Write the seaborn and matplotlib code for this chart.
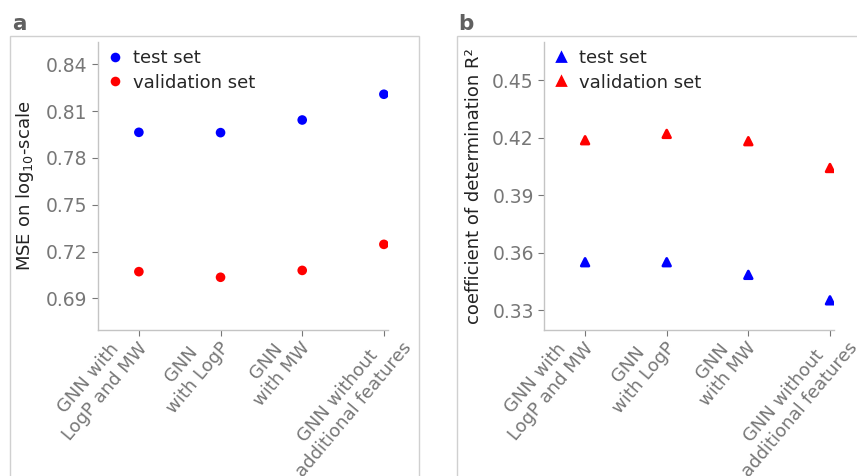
import matplotlib
matplotlib.use("Agg")
import matplotlib.pyplot as plt
from matplotlib.patches import Rectangle
from matplotlib.transforms import ScaledTranslation
import seaborn as sns
import pandas as pd

# values
models = ["GNN with\nLogP and MW", "GNN\nwith LogP", "GNN\nwith MW", "GNN without\nadditional features"]
mse_test = [0.7964, 0.7962, 0.8043, 0.8208]
mse_val = [0.7071, 0.7035, 0.7079, 0.7246]
r2_test = [0.3550, 0.3550, 0.3484, 0.3351]
r2_val = [0.4187, 0.4220, 0.4182, 0.4042]
set_names = ["test set", "validation set"]

mse_ticks = [0.69, 0.72, 0.75, 0.78, 0.81, 0.84]
r2_ticks = [0.33, 0.36, 0.39, 0.42, 0.45]


def long_df(test, val):
    return pd.DataFrame({
        "model": models * 2,
        "pos": list(range(len(models))) * 2,
        "value": test + val,
        "set": [set_names[0]] * len(test) + [set_names[1]] * len(val),
    })


sns.set_style("white")
plt.rcParams["font.family"] = ["DejaVu Sans"]
grey = "#777777"
spine = "#c4c4c4"

fig = plt.figure(figsize=(8.57, 4.76), dpi=100)
ax_a = fig.add_axes([0.1144, 0.3067, 0.3383, 0.6051])
ax_b = fig.add_axes([0.6351, 0.3067, 0.3381, 0.6051])

# panel frames
fig.patches.append(Rectangle((10 / 857, -0.05), 409 / 857, 1.05 - 36 / 476, transform=fig.transFigure,
                             fill=False, edgecolor="#d0d0d0", linewidth=1))
fig.patches.append(Rectangle((457 / 857, -0.05), 0.6, 1.05 - 36 / 476, transform=fig.transFigure,
                             fill=False, edgecolor="#d0d0d0", linewidth=1))

palette = {"test set": "#0000ff", "validation set": "#ff0000"}

panels = [
    (ax_a, long_df(mse_test, mse_val), "o", mse_ticks, (0.6697, 0.8543), "MSE on log$_{10}$-scale", "a", 12),
    (ax_b, long_df(r2_test, r2_val), "^", r2_ticks, (0.3196, 0.47), "coefficient of determination R²", "b", 458),
]

# horizontal nudge of each category label (px); the last one sits further right in the reference
label_shift = [-3, -3, -3, 17]

for ax, df, mk, yt, yl, ylab, letter, lx in panels:
    sns.scatterplot(data=df, x="pos", y="value", hue="set", palette=palette, marker=mk,
                    s=48 if mk == "o" else 30, linewidth=0, ax=ax)
    if mk == "^":
        for coll in ax.collections:
            coll.set_edgecolor(coll.get_facecolor())
            coll.set_linewidth(2.0)
            coll.set_joinstyle("round")
    ax.set_xlim(-0.5, 3.05)
    ax.set_ylim(*yl)
    ax.set_yticks(yt)
    ax.set_yticklabels([f"{t:.2f}" for t in yt])
    ax.set_xticks(range(len(models)))
    ax.set_xticklabels([])
    for i, (name, dx) in enumerate(zip(models, label_shift)):
        tr = ax.get_xaxis_transform() + ScaledTranslation(dx / 100, -8 / 100, fig.dpi_scale_trans)
        ax.text(i, 0, name, transform=tr, rotation=50, ha="right", va="center", rotation_mode="anchor",
                multialignment="center", fontsize=13, color=grey, clip_on=False)
    ax.set_xlabel("")
    ax.set_ylabel(ylab, fontsize=13, color="#222222", labelpad=7)
    ax.tick_params(axis="y", labelsize=13.5, colors=grey, length=4, width=0.8, direction="out", left=True)
    ax.tick_params(axis="x", colors=grey, length=4, width=0.8, direction="out", bottom=True)
    for s in ["top", "right"]:
        ax.spines[s].set_visible(False)
    for s in ["left", "bottom"]:
        ax.spines[s].set_color(spine)
        ax.spines[s].set_linewidth(1)
    leg = ax.legend(loc="upper left", frameon=False, fontsize=13, handletextpad=0.5, handlelength=1.0,
                    borderaxespad=0.05, labelspacing=0.35, bbox_to_anchor=(0.0, 1.003))
    if mk == "^":
        for h in leg.legend_handles:
            h.set_markeredgecolor(h.get_markerfacecolor())
            h.set_markeredgewidth(2.0)
    fig.text(lx / 857, 1 - 30 / 476, letter, fontsize=15.5, fontweight="bold", color="#606060", va="baseline")

fig.savefig("out.png", dpi=100)
